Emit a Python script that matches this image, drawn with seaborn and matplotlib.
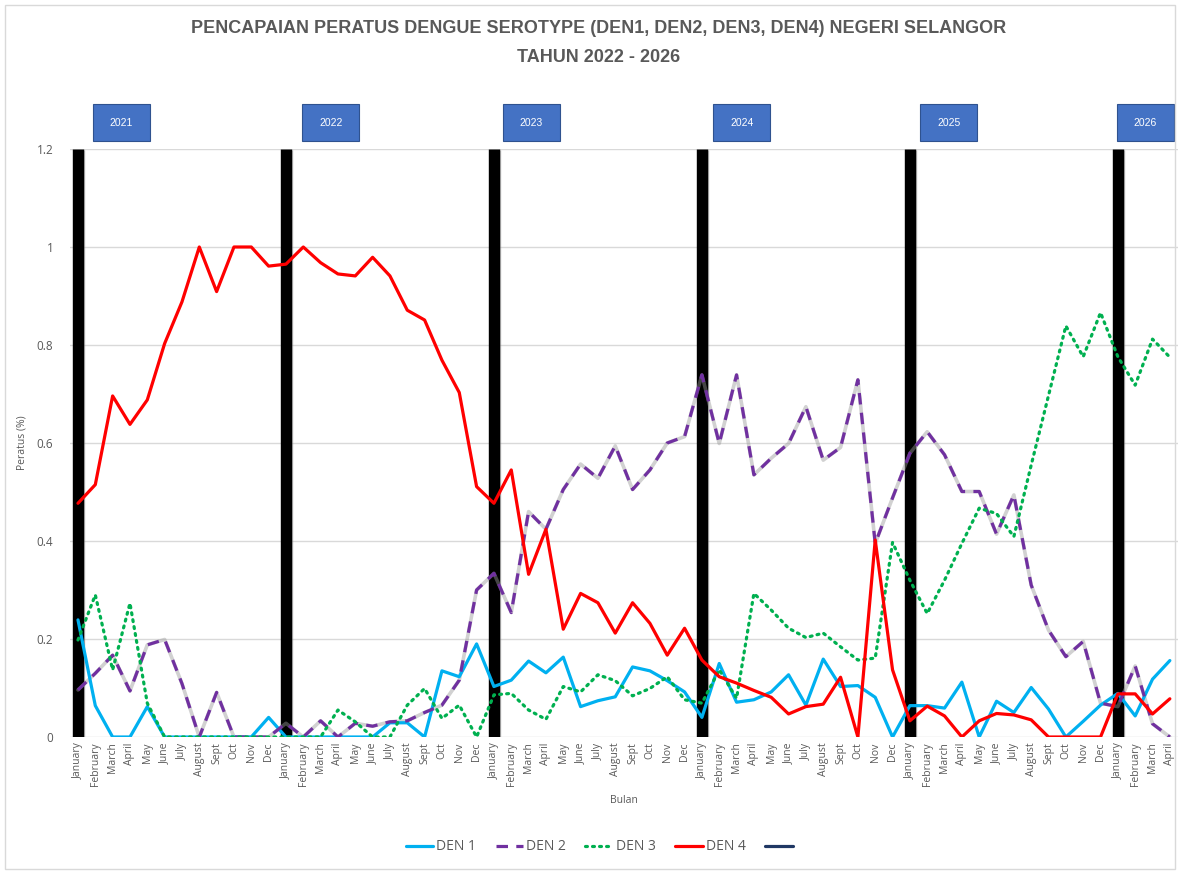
import numpy as np
import pandas as pd
import seaborn as sns
import matplotlib.pyplot as plt
import matplotlib.patheffects as pe
from matplotlib.lines import Line2D
from matplotlib.patches import Rectangle

# data (nilai dibaca dari carta asal)
years = ["2021", "2022", "2023", "2024", "2025", "2026"]
month_names = ["January", "February", "March", "April", "May", "June",
               "July", "August", "Sept", "Oct", "Nov", "Dec"]
months = month_names * 5 + month_names[:4]

den1 = [0.239, 0.064, 0.0, 0.0, 0.062, 0.0, 0.0, 0.0, 0.0, 0.0, 0.0, 0.040,
        0.0, 0.0, 0.0, 0.0, 0.0, 0.0, 0.029, 0.029, 0.0, 0.135, 0.123, 0.190,
        0.103, 0.116, 0.155, 0.131, 0.163, 0.062, 0.074, 0.082, 0.143, 0.135, 0.115, 0.092,
        0.040, 0.150, 0.071, 0.076, 0.092, 0.127, 0.065, 0.159, 0.103, 0.105, 0.081, 0.0,
        0.064, 0.064, 0.059, 0.112, 0.0, 0.073, 0.050, 0.101, 0.057, 0.0, 0.032, 0.065,
        0.089, 0.043, 0.118, 0.156]
den2 = [0.096, 0.130, 0.167, 0.094, 0.188, 0.199, 0.109, 0.0, 0.091, 0.0, 0.0, 0.0,
        0.028, 0.0, 0.033, 0.0, 0.028, 0.022, 0.031, 0.033, 0.050, 0.065, 0.116, 0.300,
        0.334, 0.254, 0.460, 0.424, 0.505, 0.557, 0.528, 0.594, 0.505, 0.545, 0.600, 0.613,
        0.739, 0.599, 0.739, 0.535, 0.569, 0.599, 0.674, 0.565, 0.591, 0.729, 0.395, 0.488,
        0.579, 0.623, 0.576, 0.501, 0.501, 0.414, 0.494, 0.310, 0.218, 0.164, 0.195, 0.069,
        0.062, 0.145, 0.027, 0.0]
den3 = [0.198, 0.290, 0.137, 0.273, 0.069, 0.0, 0.0, 0.0, 0.0, 0.0, 0.0, 0.0,
        0.0, 0.0, 0.0, 0.055, 0.031, 0.0, 0.0, 0.065, 0.099, 0.038, 0.065, 0.0,
        0.086, 0.089, 0.055, 0.036, 0.103, 0.092, 0.127, 0.115, 0.084, 0.099, 0.123, 0.076,
        0.069, 0.137, 0.079, 0.293, 0.259, 0.222, 0.203, 0.212, 0.184, 0.157, 0.161, 0.397,
        0.320, 0.252, 0.320, 0.395, 0.467, 0.456, 0.409, 0.555, 0.697, 0.839, 0.776, 0.866,
        0.776, 0.718, 0.812, 0.775]
den4 = [0.477, 0.515, 0.696, 0.638, 0.688, 0.803, 0.888, 1.0, 0.909, 1.0, 1.0, 0.961,
        0.965, 1.0, 0.968, 0.945, 0.941, 0.979, 0.941, 0.871, 0.851, 0.769, 0.703, 0.511,
        0.477, 0.545, 0.332, 0.424, 0.220, 0.293, 0.274, 0.212, 0.274, 0.232, 0.167, 0.222,
        0.157, 0.123, 0.110, 0.095, 0.081, 0.047, 0.062, 0.067, 0.122, 0.0, 0.402, 0.137,
        0.033, 0.063, 0.043, 0.0, 0.033, 0.048, 0.045, 0.035, 0.0, 0.0, 0.0, 0.0,
        0.088, 0.088, 0.047, 0.078]

df = pd.DataFrame({"idx": np.arange(len(months)), "bulan": months,
                   "DEN 1": den1, "DEN 2": den2, "DEN 3": den3, "DEN 4": den4})

sns.set_style("white")
plt.rcParams["font.family"] = ["Open Sans", "DejaVu Sans"]
grey = "#595959"
narrow = ["Liberation Sans", "DejaVu Sans"]

fig = plt.figure(figsize=(11.8, 8.74), dpi=100)
ax = fig.add_axes([70 / 1180, 137 / 874, 1108 / 1180, 588 / 874])

# garis pemisah tahun (bar hitam setiap January)
jan_idx = df.index[df["bulan"] == "January"].tolist()
ax.vlines(jan_idx, 0, 1.2, color="black", lw=8.2, zorder=2,
          path_effects=[pe.SimpleLineShadow(offset=(1, -1), shadow_color="grey", alpha=0.5), pe.Normal()])

# bayang kelabu bawah DEN 2
sns.lineplot(data=df, x="idx", y="DEN 2", ax=ax, color="#9a9a9a", lw=2.6, alpha=0.45,
             legend=False, zorder=3)

styles = {
    "DEN 1": dict(color="#00B0F0", ls="-"),
    "DEN 2": dict(color="#7030A0", ls=(0, (3.6, 2.6))),
    "DEN 3": dict(color="#00B050", ls=(0, (0.6, 1.6)), dash_capstyle="round"),
    "DEN 4": dict(color="#FF0000", ls="-"),
}
for name in ["DEN 1", "DEN 2", "DEN 3", "DEN 4"]:
    sns.lineplot(data=df, x="idx", y=name, ax=ax, lw=2.3, legend=False, zorder=4, **styles[name])

ax.set_xlim(-0.46, 63.47)
ax.set_ylim(0, 1.2)
ax.set_yticks(np.arange(0, 1.21, 0.2))
ax.set_yticklabels(["0", "0.2", "0.4", "0.6", "0.8", "1", "1.2"])
ax.set_xticks(df["idx"])
ax.set_xticklabels(df["bulan"], rotation=90)
ax.tick_params(axis="x", labelsize=7.5, colors=grey, length=0, pad=4)
ax.tick_params(axis="y", labelsize=8.5, colors=grey, length=0, pad=12)
ax.grid(axis="y", color="#D9D9D9", lw=1)
ax.set_axisbelow(True)
for s in ax.spines.values():
    s.set_visible(False)

ax.set_ylabel("Peratus (%)", fontsize=7.5, color=grey)
ax.yaxis.set_label_coords(-0.038, 0.5)
ax.set_xlabel("Bulan", fontsize=7.5, color=grey)
ax.xaxis.set_label_coords(0.5, -0.098)

# kotak label tahun
box_offsets = [0.85, 0.95, 0.5, 0.65, 0.6, -0.05]
for k, yr in enumerate(years):
    x0 = jan_idx[k] + box_offsets[k]
    ax.add_patch(Rectangle((x0, 1.0136), 3.29, 0.063, transform=ax.get_xaxis_transform(),
                           facecolor="#4472C4", edgecolor="#2F528F", lw=0.8, clip_on=False))
    ax.text(x0 + 1.645, 1.045, yr, transform=ax.get_xaxis_transform(), ha="center", va="center",
            color="white", fontsize=7.5, family=narrow)

fig.text(0.507, 0.967, "PENCAPAIAN PERATUS DENGUE SEROTYPE (DEN1, DEN2, DEN3, DEN4) NEGERI SELANGOR",
         ha="center", va="center", fontsize=13, fontweight="bold", color=grey, family=narrow)
fig.text(0.507, 0.934, "TAHUN 2022 - 2026", ha="center", va="center", fontsize=13,
         fontweight="bold", color=grey, family=narrow)

handles = [Line2D([], [], lw=2.3, **styles[n]) for n in ["DEN 1", "DEN 2", "DEN 3", "DEN 4"]]
handles.append(Line2D([], [], lw=2.3, color="#203864"))
fig.legend(handles, ["DEN 1", "DEN 2", "DEN 3", "DEN 4", ""], loc="center",
           bbox_to_anchor=(0.509, 0.031), ncol=5, frameon=False, fontsize=10,
           labelcolor=grey, handlelength=2.0, handletextpad=0.2, columnspacing=1.4)

fig.patches.append(Rectangle((0.004, 0.006), 0.992, 0.988, transform=fig.transFigure,
                             fill=False, edgecolor="#D9D9D9", lw=1))

fig.savefig("out.png", dpi=100)
